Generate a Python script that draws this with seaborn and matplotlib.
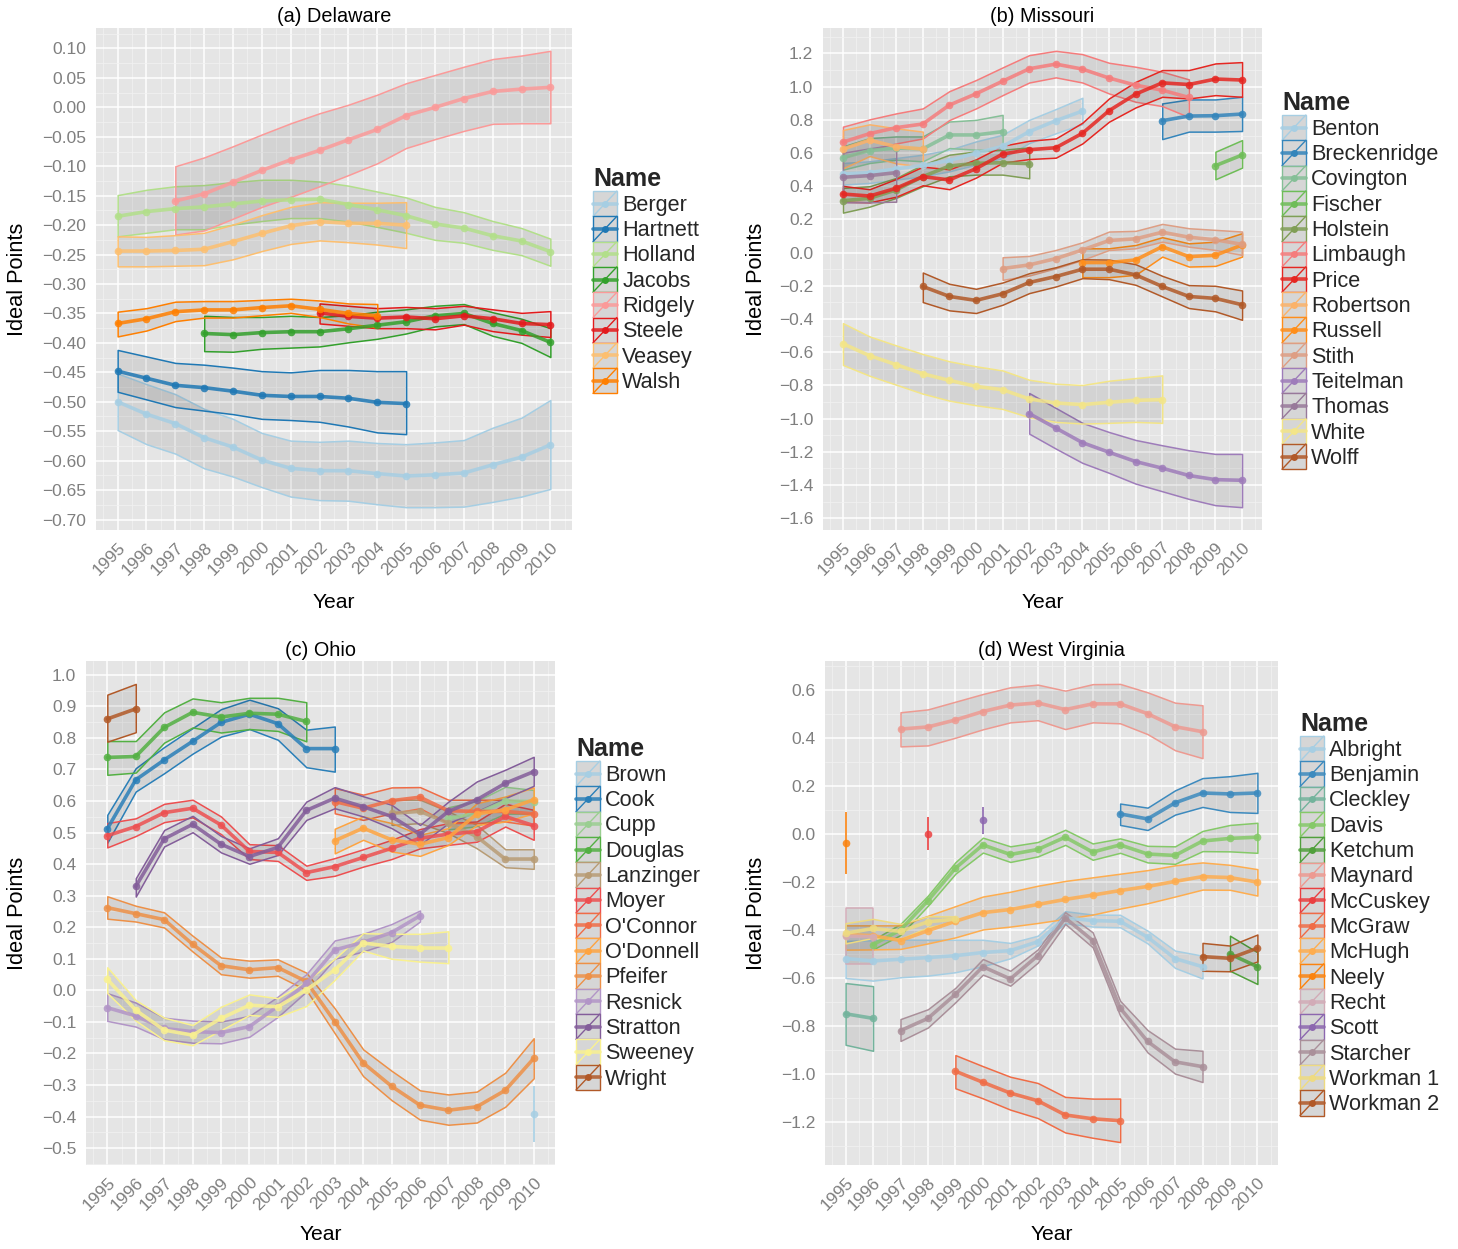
import numpy as np
import pandas as pd
import matplotlib
matplotlib.use("Agg")
import matplotlib.pyplot as plt
import seaborn as sns
from matplotlib.ticker import MultipleLocator, FuncFormatter
from matplotlib.legend_handler import HandlerBase
from matplotlib.patches import Rectangle
from matplotlib.lines import Line2D

# ---------------- DATA ----------------
# (a) Delaware
DE_NAMES = ["Berger", "Hartnett", "Holland", "Jacobs", "Ridgely", "Steele", "Veasey", "Walsh"]
DE_FIRST = [1995, 1995, 1995, 1998, 1997, 2002, 1995, 1995]
DE_FIT = [
    [-0.500, -0.521, -0.537, -0.561, -0.577, -0.599, -0.613, -0.617, -0.617, -0.622, -0.626, -0.624, -0.621, -0.607, -0.594, -0.573],
    [-0.448, -0.460, -0.472, -0.476, -0.482, -0.489, -0.491, -0.491, -0.494, -0.501, -0.503],
    [-0.185, -0.177, -0.172, -0.169, -0.164, -0.159, -0.157, -0.156, -0.165, -0.174, -0.184, -0.198, -0.205, -0.218, -0.227, -0.245],
    [-0.384, -0.386, -0.3825, -0.381, -0.381, -0.376, -0.370, -0.364, -0.354, -0.350, -0.367, -0.379, -0.399],
    [-0.159, -0.147, -0.127, -0.107, -0.089, -0.073, -0.055, -0.0375, -0.014, 0.000, 0.015, 0.027, 0.031, 0.034],
    [-0.349, -0.355, -0.358, -0.356, -0.359, -0.354, -0.359, -0.367, -0.369],
    [-0.244, -0.244, -0.243, -0.241, -0.228, -0.214, -0.201, -0.194, -0.197, -0.197, -0.200],
    [-0.367, -0.359, -0.347, -0.344, -0.344, -0.340, -0.337, -0.343, -0.350, -0.354],
]
DE_UPPER = [
    [-0.452, -0.470, -0.487, -0.512, -0.529, -0.553, -0.566, -0.568, -0.566, -0.570, -0.572, -0.569, -0.565, -0.544, -0.527, -0.497],
    [-0.412, -0.423, -0.434, -0.437, -0.442, -0.448, -0.450, -0.446, -0.446, -0.448, -0.448],
    [-0.149, -0.140, -0.134, -0.132, -0.127, -0.123, -0.123, -0.126, -0.133, -0.143, -0.153, -0.169, -0.178, -0.193, -0.205, -0.223],
    [-0.354, -0.356, -0.356, -0.354, -0.356, -0.353, -0.347, -0.343, -0.337, -0.334, -0.348, -0.359, -0.375],
    [-0.100, -0.085, -0.066, -0.046, -0.027, -0.010, 0.0045, 0.0216, 0.041, 0.055, 0.069, 0.082, 0.088, 0.096],
    [-0.333, -0.337, -0.341, -0.339, -0.341, -0.337, -0.343, -0.349, -0.346],
    [-0.219, -0.220, -0.217, -0.213, -0.199, -0.183, -0.169, -0.161, -0.162, -0.162, -0.161],
    [-0.347, -0.341, -0.330, -0.329, -0.329, -0.327, -0.325, -0.328, -0.333, -0.334],
]
DE_LOWER = [
    [-0.548, -0.572, -0.588, -0.613, -0.627, -0.645, -0.661, -0.667, -0.668, -0.674, -0.679, -0.679, -0.678, -0.670, -0.661, -0.648],
    [-0.483, -0.496, -0.509, -0.515, -0.521, -0.529, -0.531, -0.534, -0.542, -0.552, -0.555],
    [-0.219, -0.213, -0.207, -0.207, -0.199, -0.193, -0.188, -0.188, -0.194, -0.203, -0.213, -0.225, -0.230, -0.242, -0.251, -0.269],
    [-0.414, -0.415, -0.410, -0.408, -0.406, -0.399, -0.393, -0.384, -0.372, -0.368, -0.388, -0.400, -0.424],
    [-0.216, -0.209, -0.189, -0.169, -0.152, -0.134, -0.115, -0.095, -0.069, -0.054, -0.040, -0.028, -0.027, -0.027],
    [-0.367, -0.371, -0.375, -0.375, -0.377, -0.369, -0.380, -0.386, -0.390],
    [-0.270, -0.270, -0.269, -0.268, -0.258, -0.244, -0.232, -0.226, -0.229, -0.233, -0.239],
    [-0.389, -0.379, -0.363, -0.357, -0.357, -0.353, -0.349, -0.356, -0.367, -0.374],
]

# (b) Missouri
MO_NAMES = ["Benton", "Breckenridge", "Covington", "Fischer", "Holstein", "Limbaugh", "Price",
            "Robertson", "Russell", "Stith", "Teitelman", "Thomas", "White", "Wolff"]
MO_FIRST = [1995, 2007, 1995, 2009, 1995, 1995, 1995, 1995, 2004, 2001, 2002, 1995, 1995, 1998]
MO_FIT = [
    [0.474, 0.482, 0.505, 0.525, 0.555, 0.600, 0.640, 0.729, 0.795, 0.853],
    [0.795, 0.823, 0.825, 0.835],
    [0.572, 0.615, 0.630, 0.625, 0.709, 0.709, 0.729],
    [0.524, 0.588],
    [0.313, 0.327, 0.378, 0.458, 0.522, 0.538, 0.542, 0.536],
    [0.666, 0.717, 0.753, 0.775, 0.889, 0.957, 1.033, 1.108, 1.136, 1.106, 1.052, 1.009, 0.979, 0.935],
    [0.353, 0.341, 0.388, 0.458, 0.438, 0.506, 0.594, 0.620, 0.632, 0.719, 0.855, 0.955, 1.023, 1.013, 1.046, 1.040],
    [0.624, 0.678, 0.638, 0.624],
    [-0.060, -0.060, -0.044, 0.036, -0.024, -0.016, 0.046],
    [-0.096, -0.074, -0.036, 0.016, 0.073, 0.083, 0.123, 0.093, 0.077, 0.050],
    [-0.970, -1.057, -1.145, -1.203, -1.259, -1.299, -1.343, -1.368, -1.372],
    [0.454, 0.464, 0.482],
    [-0.549, -0.621, -0.675, -0.730, -0.770, -0.806, -0.826, -0.882, -0.906, -0.916, -0.902, -0.890, -0.886],
    [-0.204, -0.264, -0.288, -0.248, -0.180, -0.144, -0.100, -0.100, -0.134, -0.204, -0.264, -0.276, -0.314],
]
MO_UPPER = [
    [0.54, 0.55, 0.57, 0.59, 0.62, 0.67, 0.71, 0.80, 0.865, 0.933],
    [0.899, 0.923, 0.923, 0.939],
    [0.64, 0.69, 0.70, 0.70, 0.79, 0.80, 0.83],
    [0.608, 0.678],
    [0.39, 0.40, 0.45, 0.53, 0.59, 0.61, 0.62, 0.634],
    [0.759, 0.803, 0.839, 0.869, 0.973, 1.040, 1.116, 1.190, 1.216, 1.196, 1.144, 1.120, 1.090, 1.044],
    [0.402, 0.382, 0.444, 0.518, 0.502, 0.562, 0.644, 0.674, 0.688, 0.783, 0.929, 1.029, 1.100, 1.100, 1.140, 1.148],
    [0.739, 0.773, 0.749, 0.729],
    [0.026, 0.026, 0.046, 0.093, 0.056, 0.066, 0.117],
    [-0.028, -0.020, 0.016, 0.062, 0.127, 0.131, 0.173, 0.147, 0.137, 0.127],
    [-0.846, -0.936, -1.026, -1.081, -1.129, -1.161, -1.191, -1.213, -1.213],
    [0.602, 0.628, 0.652],
    [-0.425, -0.505, -0.559, -0.611, -0.655, -0.685, -0.710, -0.766, -0.790, -0.798, -0.772, -0.756, -0.740],
    [-0.120, -0.188, -0.218, -0.180, -0.124, -0.088, -0.040, -0.042, -0.070, -0.140, -0.196, -0.200, -0.228],
]
MO_LOWER = [
    [0.41, 0.42, 0.44, 0.46, 0.49, 0.53, 0.57, 0.66, 0.719, 0.775],
    [0.684, 0.729, 0.729, 0.733],
    [0.50, 0.54, 0.56, 0.55, 0.63, 0.62, 0.62],
    [0.442, 0.512],
    [0.241, 0.277, 0.33, 0.40, 0.46, 0.47, 0.47, 0.448],
    [0.570, 0.622, 0.658, 0.688, 0.799, 0.869, 0.949, 1.025, 1.056, 1.025, 0.959, 0.909, 0.883, 0.817],
    [0.307, 0.303, 0.337, 0.406, 0.382, 0.452, 0.542, 0.564, 0.572, 0.658, 0.789, 0.875, 0.939, 0.929, 0.949, 0.939],
    [0.508, 0.582, 0.538, 0.518],
    [-0.148, -0.148, -0.134, -0.024, -0.084, -0.080, -0.024],
    [-0.164, -0.138, -0.094, -0.044, 0.016, 0.026, 0.066, 0.036, 0.016, -0.014],
    [-1.091, -1.181, -1.267, -1.327, -1.392, -1.438, -1.484, -1.522, -1.534],
    [0.303, 0.303, 0.307],
    [-0.677, -0.742, -0.796, -0.850, -0.892, -0.920, -0.942, -0.992, -1.020, -1.030, -1.026, -1.020, -1.026],
    [-0.298, -0.348, -0.364, -0.314, -0.244, -0.204, -0.154, -0.160, -0.194, -0.264, -0.334, -0.354, -0.405],
]

# (c) Ohio
OH_NAMES = ["Brown", "Cook", "Cupp", "Douglas", "Lanzinger", "Moyer", "O'Connor", "O'Donnell",
            "Pfeifer", "Resnick", "Stratton", "Sweeney", "Wright"]
OH_FIRST = [2010, 1995, 2007, 1995, 2005, 1995, 2003, 2003, 1995, 1995, 1996, 1995, 1995]
OH_FIT = [
    [-0.392],
    [0.512, 0.667, 0.730, 0.789, 0.849, 0.875, 0.845, 0.766, 0.766],
    [0.545, 0.560, 0.600, 0.598],
    [0.738, 0.741, 0.833, 0.881, 0.866, 0.878, 0.875, 0.852],
    [0.561, 0.567, 0.530, 0.487, 0.416, 0.416],
    [0.490, 0.519, 0.563, 0.577, 0.524, 0.440, 0.437, 0.373, 0.392, 0.421, 0.450, 0.482, 0.495, 0.503, 0.551, 0.522],
    [0.598, 0.577, 0.601, 0.612, 0.569, 0.567, 0.567, 0.559],
    [0.474, 0.514, 0.477, 0.463, 0.484, 0.559, 0.572, 0.604],
    [0.262, 0.243, 0.224, 0.146, 0.078, 0.065, 0.072, 0.028, -0.099, -0.230, -0.304, -0.364, -0.380, -0.369, -0.317, -0.216],
    [-0.055, -0.081, -0.121, -0.131, -0.134, -0.115, -0.050, 0.022, 0.128, 0.152, 0.183, 0.236],
    [0.329, 0.480, 0.526, 0.463, 0.424, 0.453, 0.570, 0.609, 0.582, 0.551, 0.495, 0.567, 0.604, 0.656, 0.693],
    [0.035, -0.063, -0.126, -0.142, -0.089, -0.047, -0.052, 0.001, 0.065, 0.150, 0.139, 0.134, 0.134],
    [0.860, 0.892],
]
OH_UPPER = [
    [-0.304],
    [0.556, 0.704, 0.771, 0.831, 0.891, 0.921, 0.894, 0.826, 0.836],
    [0.58, 0.60, 0.645, 0.635],
    [0.790, 0.790, 0.881, 0.925, 0.913, 0.927, 0.927, 0.913],
    [0.604, 0.604, 0.567, 0.524, 0.447, 0.447],
    [0.530, 0.545, 0.591, 0.604, 0.551, 0.463, 0.460, 0.395, 0.419, 0.447, 0.477, 0.511, 0.530, 0.535, 0.591, 0.572],
    [0.641, 0.620, 0.643, 0.644, 0.604, 0.604, 0.604, 0.598],
    [0.512, 0.551, 0.530, 0.493, 0.514, 0.593, 0.614, 0.643],
    [0.298, 0.268, 0.247, 0.173, 0.104, 0.094, 0.098, 0.056, -0.057, -0.187, -0.255, -0.317, -0.330, -0.321, -0.261, -0.152],
    [-0.009, -0.039, -0.087, -0.096, -0.099, -0.081, -0.020, 0.051, 0.158, 0.179, 0.210, 0.253],
    [0.355, 0.508, 0.553, 0.489, 0.450, 0.482, 0.598, 0.644, 0.615, 0.588, 0.524, 0.598, 0.662, 0.699, 0.740],
    [0.073, -0.031, -0.087, -0.110, -0.052, -0.013, -0.025, 0.028, 0.100, 0.181, 0.179, 0.179, 0.187],
    [0.937, 0.971],
]
OH_LOWER = [
    [-0.481],
    [0.468, 0.630, 0.688, 0.750, 0.804, 0.828, 0.794, 0.707, 0.693],
    [0.51, 0.52, 0.56, 0.56],
    [0.683, 0.690, 0.785, 0.833, 0.817, 0.828, 0.822, 0.789],
    [0.524, 0.530, 0.498, 0.450, 0.390, 0.385],
    [0.453, 0.489, 0.533, 0.548, 0.495, 0.416, 0.410, 0.350, 0.363, 0.392, 0.416, 0.450, 0.461, 0.471, 0.519, 0.477],
    [0.561, 0.540, 0.561, 0.577, 0.530, 0.530, 0.535, 0.522],
    [0.434, 0.477, 0.440, 0.426, 0.461, 0.524, 0.535, 0.561],
    [0.227, 0.218, 0.199, 0.123, 0.051, 0.040, 0.046, 0.001, -0.136, -0.272, -0.348, -0.410, -0.426, -0.419, -0.369, -0.279],
    [-0.097, -0.115, -0.155, -0.166, -0.168, -0.147, -0.084, -0.004, 0.100, 0.123, 0.153, 0.218],
    [0.297, 0.456, 0.501, 0.437, 0.401, 0.429, 0.540, 0.577, 0.551, 0.514, 0.461, 0.530, 0.567, 0.609, 0.648],
    [-0.009, -0.096, -0.158, -0.174, -0.126, -0.078, -0.084, -0.050, 0.033, 0.126, 0.100, 0.091, 0.086],
    [0.788, 0.818],
]

# (d) West Virginia
WV_NAMES = ["Albright", "Benjamin", "Cleckley", "Davis", "Ketchum", "Maynard", "McCuskey", "McGraw",
            "McHugh", "Neely", "Recht", "Scott", "Starcher", "Workman 1", "Workman 2"]
WV_FIRST = [1995, 2005, 1995, 1996, 2009, 1997, 1998, 1999, 1995, 1995, 1995, 2000, 1997, 1995, 2008]
WV_FIT = [
    [-0.518, -0.528, -0.521, -0.514, -0.506, -0.493, -0.485, -0.448, -0.349, -0.360, -0.363, -0.429, -0.518, -0.552],
    [0.084, 0.063, 0.130, 0.171, 0.167, 0.171],
    [-0.748, -0.767],
    [-0.46, -0.399, -0.277, -0.142, -0.045, -0.085, -0.064, -0.013, -0.075, -0.045, -0.083, -0.089, -0.029, -0.018, -0.013],
    [-0.499, -0.552],
    [0.437, 0.446, 0.475, 0.510, 0.537, 0.546, 0.518, 0.542, 0.542, 0.501, 0.447, 0.426],
    [0.0],
    [-0.987, -1.033, -1.078, -1.110, -1.169, -1.185, -1.193],
    [-0.418, -0.423, -0.443, -0.402, -0.363, -0.327, -0.314, -0.293, -0.272, -0.254, -0.235, -0.218, -0.197, -0.177, -0.181, -0.200],
    [-0.038],
    [-0.425, -0.427],
    [0.057],
    [-0.818, -0.767, -0.667, -0.552, -0.603, -0.506, -0.349, -0.443, -0.724, -0.863, -0.948, -0.968],
    [-0.413, -0.393, -0.405, -0.365, -0.354],
    [-0.510, -0.517, -0.475],
]
WV_UPPER = [
    [-0.445, -0.442, -0.439, -0.440, -0.440, -0.440, -0.453, -0.423, -0.321, -0.335, -0.336, -0.402, -0.485, -0.506],
    [0.127, 0.110, 0.182, 0.233, 0.241, 0.255],
    [-0.620, -0.633],
    [-0.44, -0.374, -0.256, -0.117, -0.015, -0.051, -0.033, 0.018, -0.039, -0.018, -0.049, -0.051, 0.013, 0.038, 0.047],
    [-0.423, -0.492],
    [0.507, 0.519, 0.551, 0.583, 0.611, 0.622, 0.597, 0.624, 0.625, 0.590, 0.547, 0.536],
    [0.071],
    [-0.920, -0.966, -1.010, -1.036, -1.094, -1.101, -1.101],
    [-0.38, -0.38, -0.38, -0.34, -0.30, -0.260, -0.24, -0.215, -0.195, -0.18, -0.165, -0.15, -0.13, -0.118, -0.128, -0.146],
    [0.092],
    [-0.307, -0.307],
    [0.113],
    [-0.770, -0.729, -0.640, -0.520, -0.569, -0.480, -0.325, -0.409, -0.694, -0.816, -0.893, -0.902],
    [-0.371, -0.353, -0.374, -0.342, -0.343],
    [-0.453, -0.464, -0.418],
]
WV_LOWER = [
    [-0.599, -0.610, -0.596, -0.589, -0.575, -0.550, -0.517, -0.464, -0.371, -0.385, -0.388, -0.455, -0.557, -0.601],
    [0.038, 0.017, 0.081, 0.113, 0.092, 0.088],
    [-0.877, -0.902],
    [-0.48, -0.42, -0.298, -0.165, -0.077, -0.116, -0.093, -0.045, -0.107, -0.078, -0.118, -0.124, -0.071, -0.072, -0.078],
    [-0.569, -0.624],
    [0.365, 0.369, 0.401, 0.436, 0.465, 0.474, 0.437, 0.465, 0.461, 0.416, 0.349, 0.316],
    [-0.068],
    [-1.058, -1.100, -1.147, -1.182, -1.242, -1.264, -1.282],
    [-0.481, -0.48, -0.478, -0.455, -0.43, -0.397, -0.385, -0.37, -0.353, -0.335, -0.31, -0.288, -0.26, -0.231, -0.232, -0.256],
    [-0.165],
    [-0.540, -0.540],
    [0.001],
    [-0.861, -0.805, -0.700, -0.585, -0.631, -0.535, -0.374, -0.471, -0.756, -0.909, -0.997, -1.032],
    [-0.455, -0.432, -0.436, -0.388, -0.364],
    [-0.569, -0.571, -0.530],
]

YEAR_TICKS = list(range(1995, 2011))

# ---------------- STYLE ----------------
W, H = 1458, 1249
sns.set_theme(style="darkgrid")
plt.rcParams["font.family"] = ["Liberation Sans", "DejaVu Sans"]
plt.rcParams["axes.facecolor"] = "#E5E5E5"
plt.rcParams["figure.facecolor"] = "white"

PAIRED = ["#A6CEE3", "#1F78B4", "#B2DF8A", "#33A02C", "#FB9A99", "#E31A1C",
          "#FDBF6F", "#FF7F00", "#CAB2D6", "#6A3D9A", "#FFFF99", "#B15928"]


def palette_for(n):
    if n <= 12:
        return PAIRED[:n]
    rgb = np.array([matplotlib.colors.to_rgb(c) for c in PAIRED])
    pos = np.linspace(0, 11, n)
    out = []
    for p in pos:
        i = int(np.floor(p))
        f = p - i
        if i >= 11:
            c = rgb[11]
        else:
            c = rgb[i] * (1 - f) + rgb[i + 1] * f
        out.append(matplotlib.colors.to_hex(np.round(c * 255) / 255))
    return out


class KeyProxy:
    def __init__(self, color):
        self.color = color


class KeyHandler(HandlerBase):
    def create_artists(self, legend, orig_handle, xdescent, ydescent, width, height, fontsize, trans):
        c = orig_handle.color
        x0, y0 = -xdescent, -ydescent
        rect = Rectangle((x0, y0), width, height, facecolor="#D6D6D6", edgecolor=c, lw=1.0, transform=trans)
        diag = Line2D([x0, x0 + width], [y0, y0 + height], color=c, lw=1.0, transform=trans)
        hl = Line2D([x0, x0 + width], [y0 + height / 2] * 2, color=c, lw=2.6, alpha=0.85, transform=trans)
        pt = Line2D([x0 + width / 2], [y0 + height / 2], marker="o", ms=5, color=c, mew=0, transform=trans)
        return [rect, diag, hl, pt]


def fmt(decimals):
    def f(v, p):
        v = round(v, decimals)
        if abs(v) < 1e-9:
            v = 0.0
        return f"{v:.{decimals}f}".replace("-", "\u2212")
    return FuncFormatter(f)


def draw_panel(rect_px, names, first, fit, upper, lower, title, ystep, decimals,
               legend_xy, title_y, ylabel_x, xlabel_y):
    left, top, right, bottom = rect_px
    ax = fig.add_axes([left / W, 1 - bottom / H, (right - left) / W, (bottom - top) / H])
    pal = palette_for(len(names))
    colors = dict(zip(names, pal))

    rows = []
    for nm, y0, f, u, l in zip(names, first, fit, upper, lower):
        for k in range(len(f)):
            rows.append({"Name": nm, "Year": y0 + k, "Ideal": f[k], "Upper": u[k], "Lower": l[k]})
    df = pd.DataFrame(rows)

    # ribbons
    for nm in names:
        d = df[df["Name"] == nm]
        c = colors[nm]
        if len(d) == 1:
            ax.vlines(d["Year"], d["Lower"], d["Upper"], colors=c, lw=1.2, zorder=2)
        else:
            ax.fill_between(d["Year"], d["Lower"], d["Upper"], facecolor=(0, 0, 0, 0.08),
                            edgecolor=c, lw=1.1, zorder=2)

    sns.lineplot(data=df, x="Year", y="Ideal", hue="Name", hue_order=names, palette=colors,
                 estimator=None, sort=True, marker="o", markersize=5.5, markeredgewidth=0,
                 linewidth=2.6, alpha=0.85, legend=False, ax=ax, zorder=3)

    ymin = df["Lower"].min()
    ymax = df["Upper"].max()
    pad = (ymax - ymin) * 0.05
    ax.set_ylim(ymin - pad, ymax + pad)
    ax.set_xlim(1995 - 0.75, 2010 + 0.75)

    ax.set_xticks(YEAR_TICKS)
    ax.set_xticklabels([str(y) for y in YEAR_TICKS], rotation=45, ha="right", va="top",
                       rotation_mode="anchor")
    ax.xaxis.set_minor_locator(MultipleLocator(0.5))
    ax.yaxis.set_major_locator(MultipleLocator(ystep))
    ax.yaxis.set_minor_locator(MultipleLocator(ystep / 2))
    ax.yaxis.set_major_formatter(fmt(decimals))
    ax.grid(which="major", color="white", lw=1.1)
    ax.grid(which="minor", color="#F2F2F2", lw=0.5)
    ax.set_axisbelow(True)
    for s in ax.spines.values():
        s.set_visible(False)
    ax.tick_params(axis="both", which="major", length=4, width=1, color="#7F7F7F",
                   labelcolor="#7F7F7F", labelsize=12.5, pad=3)
    ax.tick_params(axis="both", which="minor", length=0)
    ax.set_xlabel("")
    ax.set_ylabel("")

    cx = (left + right) / 2
    fig.text(cx / W, 1 - title_y / H, title, ha="center", va="center", fontsize=14.3, color="black")
    fig.text(ylabel_x / W, 1 - ((top + bottom) / 2) / H, "Ideal Points", rotation=90,
             ha="center", va="center", fontsize=15.7, color="black")
    fig.text(cx / W, 1 - xlabel_y / H, "Year", ha="center", va="center", fontsize=15.2, color="black")

    handles = [KeyProxy(colors[n]) for n in names]
    fig.legend(handles, names, handler_map={KeyProxy: KeyHandler()},
               loc="upper left", bbox_to_anchor=(legend_xy[0] / W, 1 - legend_xy[1] / H),
               frameon=False, title="Name", alignment="left", borderaxespad=0, borderpad=0,
               fontsize=15.6, handlelength=1.1, handleheight=1.42, labelspacing=0.0,
               handletextpad=0.25,
               title_fontproperties={"weight": "bold", "size": 18})
    return ax


fig = plt.figure(figsize=(W / 100, H / 100), dpi=100)

draw_panel((96, 28, 572, 530), DE_NAMES, DE_FIRST, DE_FIT, DE_UPPER, DE_LOWER,
           "(a) Delaware", 0.05, 2, (593, 167), 16, 18, 602)
draw_panel((823, 28, 1262, 530), MO_NAMES, MO_FIRST, MO_FIT, MO_UPPER, MO_LOWER,
           "(b) Missouri", 0.2, 1, (1282, 91), 16, 757, 602)
draw_panel((86, 661, 555, 1165), OH_NAMES, OH_FIRST, OH_FIT, OH_UPPER, OH_LOWER,
           "(c) Ohio", 0.1, 1, (576, 737), 650, 18, 1235)
draw_panel((825, 661, 1278, 1165), WV_NAMES, WV_FIRST, WV_FIT, WV_UPPER, WV_LOWER,
           "(d) West Virginia", 0.2, 1, (1300, 712), 650, 757, 1235)

fig.savefig("out.png", dpi=100)
